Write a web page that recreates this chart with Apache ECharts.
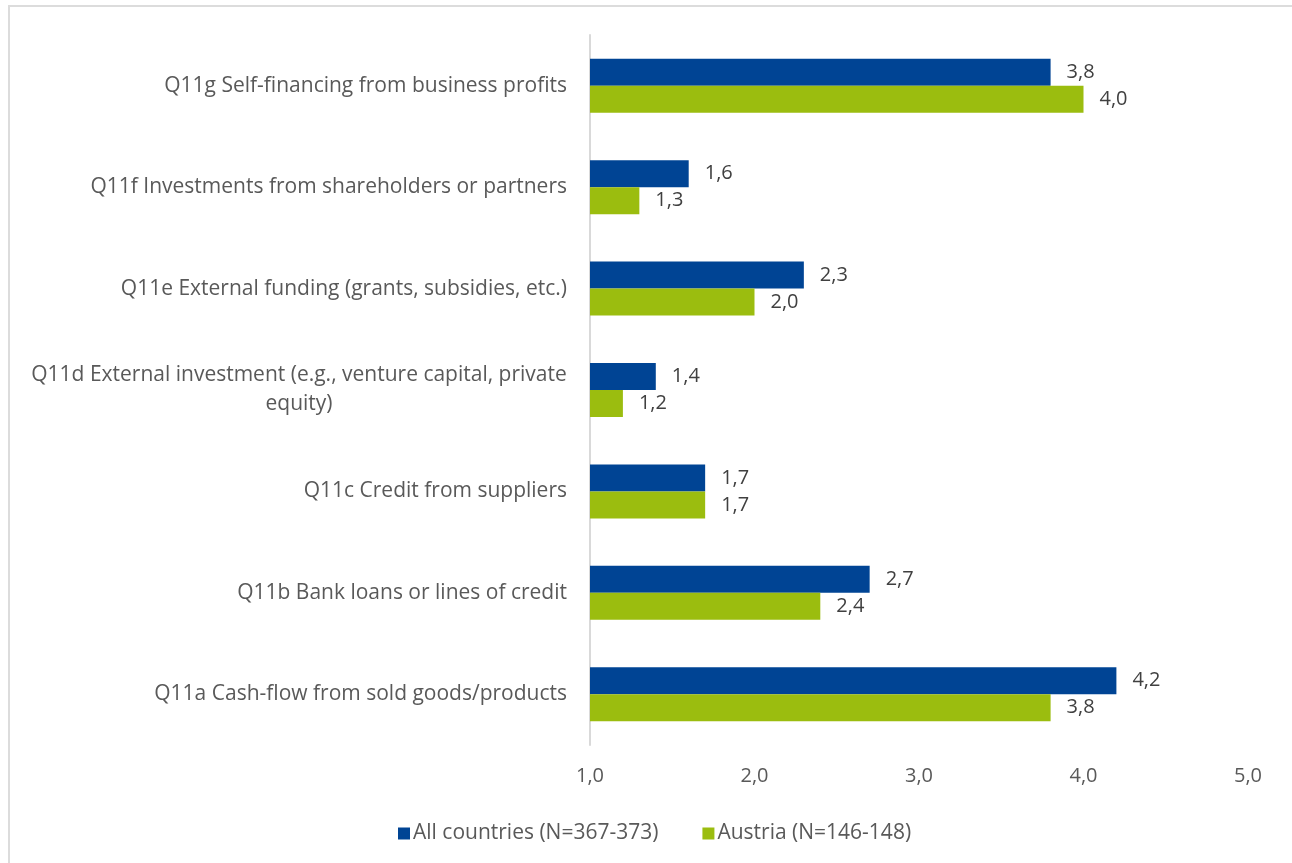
<!DOCTYPE html>
<html>
<head>
<meta charset="utf-8">
<script src="https://cdn.jsdelivr.net/npm/echarts@6/dist/echarts.min.js"></script>
<style>
  html, body { margin: 0; padding: 0; background: #fff; overflow: hidden; }
  #frame { position: absolute; left: 8px; top: 5px; width: 1400px; height: 1000px;
           border: 2px solid #dcdcdc; box-sizing: border-box; }
  #chart { position: absolute; left: 0; top: 0; width: 1292px; height: 863px; }
</style>
</head>
<body>
<div id="frame"></div>
<div id="chart"></div>
<script>
// Funding sources, listed bottom to top
const categories = [
  'Q11a Cash-flow from sold goods/products',
  'Q11b Bank loans or lines of credit',
  'Q11c Credit from suppliers',
  'Q11d External investment (e.g., venture capital, private\nequity)',
  'Q11e External funding (grants, subsidies, etc.)',
  'Q11f Investments from shareholders or partners',
  'Q11g Self-financing from business profits'
];
const allCountries = [4.2, 2.7, 1.7, 1.4, 2.3, 1.6, 3.8];
const austria      = [3.8, 2.4, 1.7, 1.2, 2.0, 1.3, 4.0];
const seriesNames  = ['All countries (N=367-373)', 'Austria (N=146-148)'];
const xTicks       = [1, 2, 3, 4, 5];

const FONT = 'Open Sans';
const CAT_SIZE = 21;
const NUM_SIZE = 20;
const TEXT = '#595959';
const BLUE = '#004494';
const GREEN = '#9bbd0f';

// width of a text line, used to centre wrapped category labels as a block
const ctx = document.createElement('canvas').getContext('2d');
ctx.font = CAT_SIZE + 'px "' + FONT + '"';
function lineWidth(s) { return Math.ceil(ctx.measureText(s).width); }
const wrapWidth = Math.max.apply(null,
  categories.filter(c => c.indexOf('\n') >= 0)
            .map(c => Math.max.apply(null, c.split('\n').map(lineWidth))));

const fmt = v => Number(v).toFixed(1).replace('.', ',');

const valueLabel = {
  show: true, position: 'right', distance: 16, color: '#404040',
  fontSize: NUM_SIZE, fontFamily: FONT, formatter: p => fmt(p.value)
};

const chart = echarts.init(document.getElementById('chart'), null, { renderer: 'canvas' });
chart.setOption({
  animation: false,
  textStyle: { fontFamily: FONT },
  grid: { left: 590, right: 44, top: 35, bottom: 118, containLabel: false },
  legend: {
    top: 818,
    left: 393,
    itemWidth: 12,
    itemHeight: 12,
    itemGap: 44,
    icon: 'rect',
    textStyle: { color: TEXT, fontSize: CAT_SIZE, fontFamily: FONT, padding: [0, 0, 0, -2] },
    data: seriesNames
  },
  xAxis: {
    type: 'value',
    min: xTicks[0],
    max: xTicks[xTicks.length - 1],
    interval: 1,
    axisLine: { show: false },
    axisTick: { show: false },
    splitLine: { show: false },
    axisLabel: { color: TEXT, fontSize: NUM_SIZE, margin: 21, formatter: fmt }
  },
  yAxis: {
    type: 'category',
    data: categories,
    axisLine: { show: true, lineStyle: { color: '#d9d9d9', width: 2 } },
    axisTick: { show: false },
    axisLabel: {
      color: TEXT,
      fontSize: CAT_SIZE,
      margin: 23,
      lineHeight: 29,
      formatter: function (v) {
        const lines = v.split('\n');
        if (lines.length === 1) return v;
        return lines.map(l => '{c|' + l + '}').join('\n');
      },
      rich: {
        c: {
          color: TEXT, fontSize: CAT_SIZE, fontFamily: FONT, lineHeight: 29,
          width: wrapWidth, align: 'center'
        }
      }
    }
  },
  series: [
    {
      name: seriesNames[0],
      type: 'bar',
      data: allCountries,
      barWidth: 27,
      barGap: '0%',
      itemStyle: { color: BLUE },
      label: valueLabel
    },
    {
      name: seriesNames[1],
      type: 'bar',
      data: austria,
      barWidth: 27,
      barGap: '0%',
      itemStyle: { color: GREEN },
      label: valueLabel
    }
  ]
});
</script>
</body>
</html>
